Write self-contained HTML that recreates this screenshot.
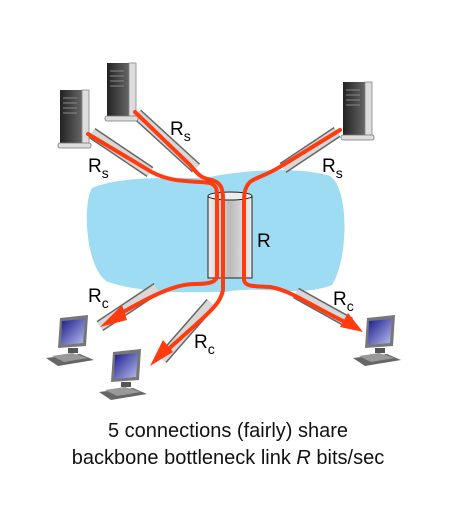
<!DOCTYPE html>
<html><head><style>body{margin:0;background:#fff}svg{display:block}</style></head><body>
<svg width="455" height="530" viewBox="0 0 455 530" xmlns="http://www.w3.org/2000/svg" font-family="Liberation Sans, sans-serif">
<defs>
<linearGradient id="pg" x1="0" y1="0" x2="1" y2="0"><stop offset="0" stop-color="#eee"/><stop offset="0.5" stop-color="#bbb"/><stop offset="1" stop-color="#eee"/></linearGradient>
<linearGradient id="sv" x1="0" y1="0" x2="1" y2="0"><stop offset="0" stop-color="#222"/><stop offset="1" stop-color="#666"/></linearGradient>
<linearGradient id="sc" x1="0" y1="0" x2="1" y2="1"><stop offset="0" stop-color="#1a1a8a"/><stop offset="1" stop-color="#b8c0f0"/></linearGradient>
<g id="srv"><rect x="0" y="0" width="22" height="54" fill="url(#sv)"/><rect x="22" y="0" width="7" height="54" fill="#ddd" stroke="#888" stroke-width="0.8"/><rect x="-2" y="53" width="33" height="5" rx="2" fill="#ddd" stroke="#777" stroke-width="0.8"/><path d="M3 8h14M3 13h14M3 18h14M3 23h14" stroke="#888" stroke-width="1"/></g>
<g id="pc"><path d="M10 0 L38 -3 L36 28 L8 30 Z" fill="#777"/><path d="M12 3 L35 1 L33 25 L11 27 Z" fill="url(#sc)"/><rect x="18" y="30" width="10" height="5" fill="#555"/><path d="M-4 40 L30 36 L44 42 L8 48 Z" fill="#666"/><path d="M2 38 L22 35 L38 40 L14 44Z" fill="#999"/></g>
</defs>
<path d="M92 188 C120 176,170 178,205 178 C240 170,300 166,330 176 C350 190,348 260,332 285 C300 298,260 285,225 292 C190 292,150 295,108 282 C86 270,82 205,92 188 Z" fill="#9ddcf3"/>
<rect x="208" y="196" width="44" height="82" fill="url(#pg)" stroke="#222" stroke-width="1"/>
<ellipse cx="230" cy="196" rx="22" ry="4" fill="#eee" stroke="#222" stroke-width="1"/>
<g stroke-linecap="butt">
<line x1="92" y1="133" x2="150" y2="172" stroke="#666" stroke-width="12"/><line x1="92" y1="133" x2="150" y2="172" stroke="#d8d8d8" stroke-width="9"/>
<line x1="137" y1="114" x2="196" y2="168" stroke="#666" stroke-width="12"/><line x1="137" y1="114" x2="196" y2="168" stroke="#d8d8d8" stroke-width="9"/>
<line x1="337" y1="132" x2="283" y2="168" stroke="#666" stroke-width="12"/><line x1="337" y1="132" x2="283" y2="168" stroke="#d8d8d8" stroke-width="9"/>
<line x1="157" y1="288" x2="100" y2="326" stroke="#666" stroke-width="12"/><line x1="157" y1="288" x2="100" y2="326" stroke="#d8d8d8" stroke-width="9"/>
<line x1="211" y1="303" x2="162" y2="359" stroke="#666" stroke-width="12"/><line x1="211" y1="303" x2="162" y2="359" stroke="#d8d8d8" stroke-width="9"/>
<line x1="296" y1="293" x2="350" y2="323" stroke="#666" stroke-width="12"/><line x1="296" y1="293" x2="350" y2="323" stroke="#d8d8d8" stroke-width="9"/>
</g>
<use href="#srv" x="60" y="90"/><use href="#srv" x="107" y="63"/><use href="#srv" x="343" y="82"/>
<g fill="none" stroke="#ff3b0f" stroke-width="4" stroke-linecap="round">
<path d="M88 134 L145 168 C170 185,195 180,210 183 C218 186,217 192,217 200 L217 275 C217 282,210 284,195 284 C180 284,160 290,115 317"/>
<path d="M135 112 L190 165 C198 174,200 178,212 180 C222 183,223 190,223 200 L223 290 C220 305,210 312,165 352"/>
<path d="M340 130 L283 165 C266 176,256 177,250 182 C244 188,244 195,244 205 L244 280 C245 287,255 286,270 287 C290 290,310 305,345 322"/>
</g>
<g fill="#ff3b0f">
<path d="M100 327 L122 305 L127 320 Z"/>
<path d="M150 366 L163 340 L173 352 Z"/>
<path d="M363 332 L340 327 L348 313 Z"/>
</g>
<use href="#pc" x="50" y="318"/><use href="#pc" x="103" y="352"/><use href="#pc" x="357" y="318"/>
<g font-size="19" fill="#000">
<text x="88" y="172">R<tspan font-size="14" dy="6">s</tspan></text>
<text x="170" y="135">R<tspan font-size="14" dy="6">s</tspan></text>
<text x="322" y="172">R<tspan font-size="14" dy="6">s</tspan></text>
<text x="257" y="247">R</text>
<text x="88" y="302">R<tspan font-size="14" dy="6">c</tspan></text>
<text x="194" y="348">R<tspan font-size="14" dy="6">c</tspan></text>
<text x="333" y="305">R<tspan font-size="14" dy="6">c</tspan></text>
</g>
<g font-size="20" fill="#111" text-anchor="middle">
<text x="228" y="437">5 connections (fairly) share</text>
<text x="228" y="464">backbone bottleneck link <tspan font-style="italic">R</tspan> bits/sec</text>
</g>
</svg>
</body></html>
